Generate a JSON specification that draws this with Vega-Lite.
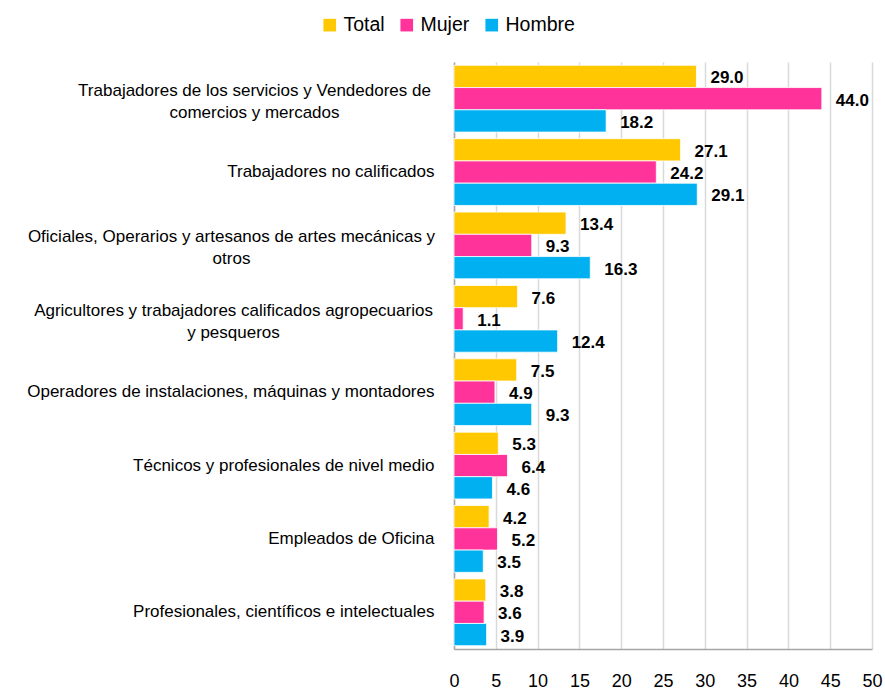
{
  "$schema": "https://vega.github.io/schema/vega-lite/v6.json",
  "autosize": {"type": "none"},
  "width": 418,
  "height": 587,
  "padding": {"left": 454, "top": 62, "right": 13, "bottom": 41},
  "background": "white",
  "config": {
    "font": "Liberation Sans",
    "view": {"stroke": null}
  },
  "data": {
    "values": [
      {"cat": "Trabajadores de los servicios  y Vendedores de|comercios y mercados", "serie": "Total", "valor": 29.0},
      {"cat": "Trabajadores de los servicios  y Vendedores de|comercios y mercados", "serie": "Mujer", "valor": 44.0},
      {"cat": "Trabajadores de los servicios  y Vendedores de|comercios y mercados", "serie": "Hombre", "valor": 18.2},
      {"cat": "Trabajadores no  calificados", "serie": "Total", "valor": 27.1},
      {"cat": "Trabajadores no  calificados", "serie": "Mujer", "valor": 24.2},
      {"cat": "Trabajadores no  calificados", "serie": "Hombre", "valor": 29.1},
      {"cat": "Oficiales,  Operarios y artesanos de artes mecánicas  y|otros", "serie": "Total", "valor": 13.4},
      {"cat": "Oficiales,  Operarios y artesanos de artes mecánicas  y|otros", "serie": "Mujer", "valor": 9.3},
      {"cat": "Oficiales,  Operarios y artesanos de artes mecánicas  y|otros", "serie": "Hombre", "valor": 16.3},
      {"cat": "Agricultores y trabajadores calificados  agropecuarios|y pesqueros", "serie": "Total", "valor": 7.6},
      {"cat": "Agricultores y trabajadores calificados  agropecuarios|y pesqueros", "serie": "Mujer", "valor": 1.1},
      {"cat": "Agricultores y trabajadores calificados  agropecuarios|y pesqueros", "serie": "Hombre", "valor": 12.4},
      {"cat": "Operadores de instalaciones,  máquinas  y montadores", "serie": "Total", "valor": 7.5},
      {"cat": "Operadores de instalaciones,  máquinas  y montadores", "serie": "Mujer", "valor": 4.9},
      {"cat": "Operadores de instalaciones,  máquinas  y montadores", "serie": "Hombre", "valor": 9.3},
      {"cat": "Técnicos y profesionales  de nivel medio", "serie": "Total", "valor": 5.3},
      {"cat": "Técnicos y profesionales  de nivel medio", "serie": "Mujer", "valor": 6.4},
      {"cat": "Técnicos y profesionales  de nivel medio", "serie": "Hombre", "valor": 4.6},
      {"cat": "Empleados de Oficina", "serie": "Total", "valor": 4.2},
      {"cat": "Empleados de Oficina", "serie": "Mujer", "valor": 5.2},
      {"cat": "Empleados de Oficina", "serie": "Hombre", "valor": 3.5},
      {"cat": "Profesionales,  científicos  e intelectuales", "serie": "Total", "valor": 3.8},
      {"cat": "Profesionales,  científicos  e intelectuales", "serie": "Mujer", "valor": 3.6},
      {"cat": "Profesionales,  científicos  e intelectuales", "serie": "Hombre", "valor": 3.9}
    ]
  },
  "encoding": {
    "y": {
      "field": "cat",
      "type": "nominal",
      "sort": null,
      "title": null,
      "scale": {"paddingInner": 0.09, "paddingOuter": 0.045},
      "axis": {
        "labelExpr": "split(datum.label, '|')",
        "labelFontSize": 17,
        "labelLineHeight": 22,
        "labelColor": "#000000",
        "labelAlign": {"condition": {"test": "test(/[|]/, datum.value)", "value": "center"}, "value": "right"},
        "labelPadding": {"condition": [
          {"test": "test(/^Trabajadores de/, datum.value)", "value": 200},
          {"test": "test(/^Oficiales/, datum.value)", "value": 223},
          {"test": "test(/^Agricultores/, datum.value)", "value": 221}
        ], "value": 20},
        "labelOffset": {"condition": {"test": "test(/[|]/, datum.value)", "value": -8}, "value": 0},
        "labelLimit": 460,
        "ticks": false,
        "domainColor": "#a6a6a6",
        "domainWidth": 1.5
      }
    },
    "yOffset": {
      "field": "serie",
      "type": "nominal",
      "sort": ["Total", "Mujer", "Hombre"],
      "scale": {"paddingInner": 0, "paddingOuter": 0}
    },
    "x": {
      "field": "valor",
      "type": "quantitative",
      "title": null,
      "scale": {"domain": [0, 50], "nice": false},
      "axis": {
        "values": [0, 5, 10, 15, 20, 25, 30, 35, 40, 45, 50],
        "grid": true,
        "gridColor": "#d9d9d9",
        "gridWidth": 1.5,
        "ticks": false,
        "domainColor": "#a6a6a6",
        "domainWidth": 1.5,
        "labelFontSize": 18,
        "labelColor": "#000000",
        "labelPadding": 23,
        "labelFlush": false
      }
    }
  },
  "layer": [
    {
      "mark": {"type": "bar", "stroke": "white", "strokeWidth": 0.8},
      "encoding": {
        "color": {
          "field": "serie",
          "type": "nominal",
          "sort": ["Total", "Mujer", "Hombre"],
          "scale": {"domain": ["Total", "Mujer", "Hombre"], "range": ["#FFC800", "#FF3399", "#00B0F0"]},
          "legend": {
            "orient": "none",
            "legendX": -134,
            "legendY": -47,
            "direction": "horizontal",
            "title": null,
            "symbolType": "square",
            "symbolSize": 160,
            "symbolStrokeWidth": 0,
            "labelFontSize": 19.5,
            "labelColor": "#000000",
            "labelOffset": 4,
            "columnPadding": 12
          }
        }
      }
    },
    {
      "mark": {"type": "text", "align": "left", "baseline": "middle", "dx": 14, "dy": 2, "fontWeight": "bold", "fontSize": 17, "color": "#000000"},
      "encoding": {
        "text": {"field": "valor", "type": "quantitative", "format": ".1f"}
      }
    }
  ]
}
